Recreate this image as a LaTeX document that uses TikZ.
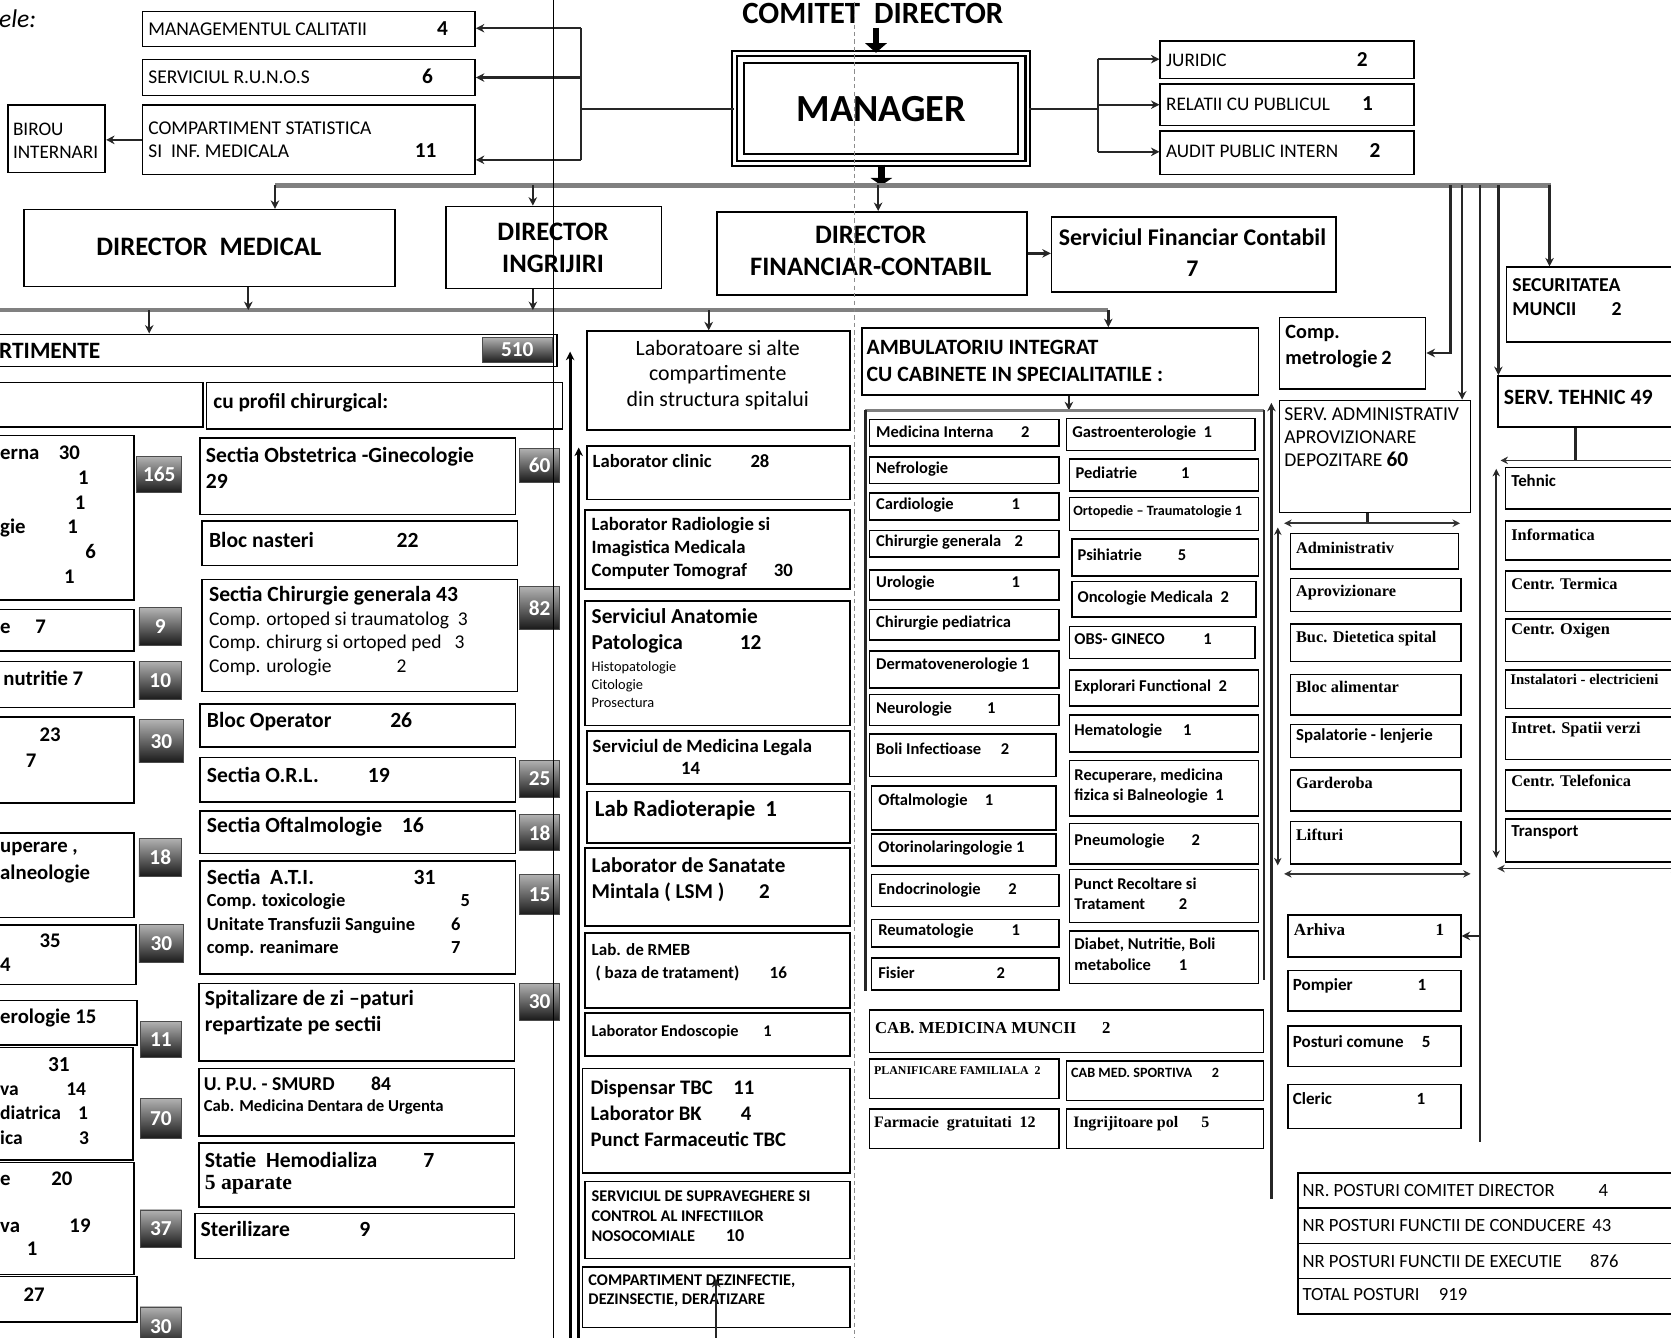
\documentclass[tikz,border=0pt]{standalone}
\usepackage{fontspec}
\setmainfont{Carlito}
\newfontfamily\tms{Liberation Serif}
\usetikzlibrary{arrows.meta}
\newcommand\sz[2]{\fontsize{#1}{#2}\selectfont}
\newcommand\LN[3]{\makebox[#1pt][l]{#2}#3}
\newcommand\nb[1]{\textbf{\sz{20}{22}#1}}
\newcommand\BX[9][]{%
 \node[box,minimum width={#5-(#3)},minimum height={#6-(#4)},anchor=north west] (#2) at (#3,#4) {};
 \node[tx,anchor=west,#1] (#2-t) at (#7,#8) {#9};}
\newcommand\BD[6]{%
 \node[badge,minimum width={#4-(#2)},minimum height={#5-(#3)},anchor=north west] (#1) at (#2,#3) {#6};}
\tikzset{
 box/.style={draw, line width=1.5pt, inner sep=0pt, fill=white},
 tx/.style={inner sep=0pt, align=left, font=\sz{16}{21}},
 badge/.style={draw=black!70, line width=0.8pt, inner sep=0pt, top color=black!30, bottom color=black!90, text=white, font=\bfseries\sz{20}{20}},
 con/.style={line width=2.2pt, draw=black!85},
 lcon/.style={line width=1.5pt, draw=black!80},
 bus/.style={line width=4pt, draw=black!50},
 arr/.style={-{Stealth[length=8pt,width=8pt]}},
 darr/.style={{Stealth[length=7pt,width=7pt]}-{Stealth[length=7pt,width=7pt]}},
 ab/.style={font=\bfseries\sz{15.5}{19}},
 sg/.style={font=\bfseries\sz{20.3}{24.5}},
 sv/.style={font=\tms\bfseries\sz{15.3}{18}},
 sb/.style={font=\bfseries\sz{15.8}{18}},
 lf/.style={font=\bfseries\sz{19.5}{23.2}},
}
\begin{document}
\begin{tikzpicture}[x=1pt,y=-1pt]
\useasboundingbox (0,0) rectangle (1568,1255);
\clip (0,0) rectangle (1568,1255);

% ---------- top ----------
\node[font=\bfseries\sz{29}{31}, anchor=base, inner sep=0pt] (comitet) at (819,22) {COMITET\ \ DIRECTOR};
\node[font=\itshape\sz{24}{26}, anchor=base west, inner sep=0pt] (ele) at (-1,26) {ele:};

\node[draw, line width=2pt, double, double distance=2.5pt, minimum width=275pt, minimum height=103pt, inner sep=0pt, fill=white, font=\bfseries\sz{36}{36}] (manager) at (827,102) {MANAGER};
\draw[line width=1.8pt] ([xshift=10pt,yshift=-10pt]manager.north west) rectangle ([xshift=-10pt,yshift=10pt]manager.south east);

\BX[font=\sz{18.3}{22}]{mc}{133}{10}{445}{43}{139}{27}{\LN{271}{MANAGEMENTUL CALITATII}{\nb{4}}}
\BX[font=\sz{18.3}{22}]{runos}{133}{55}{445}{89}{139}{72}{\LN{257}{SERVICIUL R.U.N.O.S}{\nb{6}}}
\BX[font=\sz{18.3}{22}]{cs}{133}{98}{445}{163}{139}{131}{COMPARTIMENT STATISTICA\\\LN{250}{SI\ \ INF. MEDICALA}{\nb{11}}}
\BX[font=\sz{18}{22}]{birou}{7}{98}{98}{161}{12}{132}{BIROU\\INTERNARI}

\BX[font=\sz{18}{22}]{jur}{1088}{38}{1326}{73}{1094}{56}{\LN{179}{JURIDIC}{\nb{2}}}
\BX[font=\sz{18}{22}]{rel}{1088}{78}{1326}{117}{1094}{97}{\LN{184}{RELATII CU PUBLICUL}{\nb{1}}}
\BX[font=\sz{18}{22}]{aud}{1088}{122}{1326}{163}{1094}{141}{\LN{191}{AUDIT PUBLIC INTERN}{\nb{2}}}

% ---------- directors ----------
\BX[font=\bfseries\sz{25}{30},anchor=center,align=center]{dm}{22}{196}{370}{268}{196}{232}{DIRECTOR\ \ MEDICAL}
\BX[font=\bfseries\sz{25}{30},anchor=center,align=center]{di}{418}{193}{620}{270}{519}{233}{DIRECTOR\\INGRIJIRI}
\BX[font=\bfseries\sz{25}{30},anchor=center,align=center]{dfc}{672}{198}{963}{276}{817}{235}{DIRECTOR\\FINANCIAR-CONTABIL}
\BX[font=\bfseries\sz{22.4}{29},anchor=center,align=center]{sfc}{986}{203}{1253}{273}{1119}{237}{Serviciul Financiar Contabil\\7}

% ---------- sectii ----------
\BX[font=\bfseries\sz{22}{24}]{dept}{-5}{313}{522}{343}{-1}{329}{RTIMENTE}
\BD{b510}{452}{316}{518}{340}{510}
\BX{medh}{-5}{358}{190}{400}{0}{379}{}
\BX[font=\bfseries\sz{20}{24}]{chirh}{193}{358}{527}{402}{200}{378}{cu profil chirurgical:}

\BX[lf]{L1}{-5}{408}{125}{562}{0}{483}{\LN{55}{erna}{30}\\\hspace*{73pt}1\\\hspace*{70pt}1\\\LN{63}{gie}{1}\\\hspace*{80pt}6\\\hspace*{60pt}1}
\BX[lf]{L2}{-5}{571}{125}{610}{0}{588}{\LN{33}{e}{7}}
\BX[lf]{L3}{-5}{620}{125}{663}{3}{636}{nutritie\ 7}
\BX[font=\bfseries\sz{19.5}{25}]{L4}{-5}{672}{125}{753}{0}{701.5}{\hspace*{37pt}23\\\hspace*{24pt}7}
\BX[font=\bfseries\sz{19.5}{25}]{L5}{-5}{781}{125}{860}{0}{809.5}{uperare ,\\alneologie}
\BX[font=\bfseries\sz{19.5}{22}]{L6}{-5}{867}{127}{923}{0}{894}{\hspace*{37pt}35\\4}
\BX[lf]{L7}{-5}{938}{128}{980}{0}{955}{erologie 15}
\BX[font=\bfseries\sz{18.3}{22.7}]{L8}{-5}{982}{124}{1088}{0}{1033}{\hspace*{45pt}{\sz{20}{22.7}31}\\\LN{62}{va}{14}\\\LN{73}{diatrica}{1}\\\LN{74}{ica}{3}}
\BX[font=\bfseries\sz{19.5}{22}]{L9}{-5}{1090}{125}{1195}{0}{1139}{\LN{48}{e}{20}\\\mbox{}\\\LN{65}{va}{19}\\\hspace*{25pt}1}
\BX[lf]{L10}{-5}{1197}{128}{1240}{0}{1215}{\hspace*{22pt}27}

\BD{g1}{128}{428}{170}{462}{165}
\BD{g2}{130}{570}{170}{605}{9}
\BD{g3}{130}{620}{170}{656}{10}
\BD{g4}{130}{675}{172}{715}{30}
\BD{g5}{130}{786}{170}{822}{18}
\BD{g6}{130}{867}{172}{903}{30}
\BD{g7}{131}{958}{170}{992}{11}
\BD{g8}{131}{1030}{170}{1068}{70}
\BD{g9}{131}{1135}{170}{1170}{37}
\BD{g10}{131}{1226}{170}{1262}{30}

\BX[sg]{obst}{187}{410}{483}{482}{193}{439}{Sectia Obstetrica -Ginecologie\\29}
\BX[sg]{nast}{189}{488}{485}{530}{196}{507}{\LN{176}{Bloc nasteri}{22}}
\BX[sg]{chir}{189}{543}{485}{648}{196}{559}{Sectia Chirurgie generala 43}
\node[tx,font=\sz{18.3}{22},anchor=west] (chir-s) at (196,604) {Comp. ortoped si traumatolog\ \ 3\\Comp. chirurg si ortoped ped\ \ \ 3\\\LN{176}{Comp. urologie}{2}};
\BX[sg]{blop}{187}{660}{483}{700}{194}{677}{\LN{172}{Bloc Operator}{26}}
\BX[sg]{orl}{187}{710}{483}{752}{194}{727}{\LN{151}{Sectia O.R.L.}{19}}
\BX[sg]{oft}{187}{760}{483}{800}{194}{776}{\LN{183}{Sectia Oftalmologie}{16}}
\BX[sg]{ati}{187}{807}{483}{913}{194}{823}{\LN{194}{Sectia\ \ A.T.I.}{31}}
\node[tx,font=\bfseries\sz{17.3}{22},anchor=west] (ati-s) at (194,868) {\LN{238}{Comp. toxicologie}{5}\\\LN{229}{Unitate Transfuzii Sanguine}{6}\\\LN{229}{comp. reanimare}{7}};
\BX[sg]{spit}{186}{922}{482}{995}{192}{950.5}{Spitalizare de zi \textendash paturi\\repartizate pe sectii}
\BX[font=\bfseries\sz{18.4}{21}]{upu}{186}{1002}{482}{1065}{191}{1017}{\LN{157}{U. P.U. - SMURD}{84}}
\node[tx,font=\bfseries\sz{15.7}{18},anchor=west] (upu-s) at (191,1039) {Cab. Medicina Dentara de Urgenta};
\BX[sg]{hemo}{186}{1072}{482}{1132}{192}{1088}{\LN{205}{Statie\ \ Hemodializa}{7}}
\node[tx,font=\tms\bfseries\sz{20.3}{22},anchor=west] (hemo-s) at (192,1112) {5 aparate};
\BX[sg]{ster}{182}{1138}{482}{1180}{188}{1153}{\LN{149}{Sterilizare}{9}}

\BD{h1}{487}{420}{525}{452}{60}
\BD{h2}{487}{550}{525}{590}{82}
\BD{h3}{487}{713}{525}{748}{25}
\BD{h4}{487}{764}{525}{798}{18}
\BD{h5}{487}{820}{525}{858}{15}
\BD{h6}{487}{922}{525}{957}{30}

% ---------- laboratoare ----------
\BX[font=\sz{20.5}{24},anchor=center,align=center]{labh}{550}{310}{797}{403}{673.5}{352}{Laboratoare si alte\\compartimente\\din structura spitalui}
\BX[font=\bfseries\sz{17.5}{22}]{lclin}{550}{418}{797}{468}{556}{433}{\LN{148}{Laborator clinic}{28}}
\BX[font=\bfseries\sz{17.6}{21.5}]{lrad}{548}{478}{797}{552}{555}{514.5}{Laborator Radiologie si\\Imagistica Medicala\\\LN{171}{Computer Tomograf}{30}}
\BX[font=\bfseries\sz{20}{24}]{anat}{548}{563}{797}{680}{555}{592}{Serviciul Anatomie\\\LN{139}{Patologica}{12}}
\node[tx,font=\sz{13.5}{17},anchor=west] (anat-s) at (555,642) {Histopatologie\\Citologie\\Prosectura};
\BX[font=\bfseries\sz{17.6}{21}]{legal}{550}{685}{797}{735}{556}{710.5}{Serviciul de Medicina Legala\\\hspace*{83pt}14}
\BX[font=\bfseries\sz{21.5}{24}]{radio}{550}{742}{797}{790}{558}{760}{\LN{160}{Lab Radioterapie}{1}}
\BX[font=\bfseries\sz{19.8}{25}]{lsm}{548}{795}{797}{868}{555}{825.5}{Laborator de Sanatate\\\LN{157}{Mintala ( LSM )}{2}}
\BX[font=\bfseries\sz{16}{22}]{rmeb}{548}{875}{797}{945}{555}{903}{Lab. de RMEB\\\LN{167}{\ ( baza de tratament)}{16}}
\BX[font=\bfseries\sz{15.3}{20}]{endo}{548}{950}{797}{990}{555}{968}{\LN{161}{Laborator Endoscopie}{1}}
\BX[font=\bfseries\sz{19.4}{24.5}]{tbc}{546}{1002}{797}{1100}{554}{1044.5}{\LN{134}{Dispensar TBC}{11}\\\LN{141}{Laborator BK}{4}\\Punct Farmaceutic TBC}
\BX[font=\bfseries\sz{15.3}{19}]{sup}{548}{1108}{797}{1180}{555}{1141}{SERVICIUL DE SUPRAVEGHERE SI\\CONTROL AL INFECTIILOR\\\LN{126}{NOSOCOMIALE}{\sz{17}{19}10}}
\BX[font=\bfseries\sz{15.3}{18}]{dez}{546}{1188}{797}{1245}{552}{1211}{COMPARTIMENT DEZINFECTIE,\\DEZINSECTIE, DERATIZARE}

% ---------- ambulatoriu ----------
\BX[font=\bfseries\sz{20.5}{25}]{amb}{808}{307}{1180}{370}{813}{338.5}{AMBULATORIU INTEGRAT\\CU CABINETE IN SPECIALITATILE :}
\BX[ab]{ami}{815}{393}{993}{418}{822}{405}{\LN{136}{Medicina Interna}{2}}
\BX[ab]{nef}{815}{428}{993}{453}{822}{440}{Nefrologie}
\BX[ab]{card}{815}{462}{993}{487}{822}{474}{\LN{127}{Cardiologie}{1}}
\BX[ab]{chg}{815}{497}{993}{522}{822}{509}{\LN{130}{Chirurgie generala}{2}}
\BX[ab]{uro}{815}{534}{993}{562}{822}{547}{\LN{127}{Urologie}{1}}
\BX[ab]{chp}{815}{571}{993}{600}{822}{585}{Chirurgie pediatrica}
\BX[ab]{derm}{815}{610}{993}{645}{822}{624}{Dermatovenerologie 1}
\BX[ab]{neur}{815}{651}{993}{680}{822}{665}{\LN{104}{Neurologie}{1}}
\BX[ab]{boli}{815}{688}{990}{728}{822}{703}{\LN{117}{Boli Infectioase}{2}}
\BX[ab]{oftb}{817}{737}{990}{778}{824}{752}{\LN{100}{Oftalmologie}{1}}
\BX[ab]{orlb}{817}{782}{990}{812}{824}{796}{Otorinolaringologie\ 1}
\BX[ab]{endc}{817}{820}{993}{850}{824}{835}{\LN{122}{Endocrinologie}{2}}
\BX[ab]{reum}{817}{862}{993}{888}{824}{874}{\LN{125}{Reumatologie}{1}}
\BX[ab]{fis}{817}{898}{993}{928}{824}{913}{\LN{111}{Fisier}{2}}

\BX[ab]{gas}{1000}{392}{1177}{422}{1006}{406}{Gastroenterologie\ \ 1}
\BX[ab]{ped}{1003}{430}{1180}{460}{1009}{444}{\LN{99}{Pediatrie}{1}}
\BX[font=\bfseries\sz{13.3}{15}]{orto}{1003}{466}{1180}{497}{1007}{480}{Ortopedie \textendash\ Traumatologie 1}
\BX[ab]{psi}{1005}{505}{1180}{540}{1011}{521}{\LN{94}{Psihiatrie}{5}}
\BX[ab]{onc}{1005}{545}{1178}{578}{1011}{561}{Oncologie Medicala\ \ 2}
\BX[ab]{obs}{1003}{587}{1177}{617}{1008}{600}{\LN{121}{OBS- GINECO}{1}}
\BX[ab]{expl}{1003}{628}{1180}{662}{1008}{645}{Explorari Functional\ \ 2}
\BX[ab]{hem}{1003}{670}{1180}{705}{1008}{686}{\LN{102}{Hematologie}{1}}
\BX[ab]{rec}{1003}{713}{1180}{765}{1008}{737.5}{Recuperare, medicina\\fizica si Balneologie\ \ 1}
\BX[ab]{pne}{1003}{772}{1180}{810}{1008}{789}{\LN{110}{Pneumologie}{2}}
\BX[ab]{pun}{1003}{815}{1180}{865}{1008}{838.5}{Punct Recoltare si\\\LN{98}{Tratament}{2}}
\BX[ab]{dia}{1003}{873}{1180}{922}{1008}{895.5}{Diabet, Nutritie, Boli\\\LN{98}{metabolice}{1}}

\BX[font=\tms\bfseries\sz{15.7}{18}]{cmm}{815}{947}{1185}{987}{821}{965}{\LN{213}{CAB. MEDICINA MUNCII}{2}}
\BX[font=\tms\bfseries\sz{11.2}{14}]{plan}{815}{993}{993}{1030}{820}{1005}{PLANIFICARE FAMILIALA\ \ 2}
\BX[font=\bfseries\sz{13.3}{15}]{sport}{1000}{995}{1185}{1032}{1005}{1007}{\LN{132}{CAB MED. SPORTIVA}{2}}
\BX[font=\tms\bfseries\sz{15}{17}]{farm}{815}{1040}{993}{1077}{820}{1054}{Farmacie\ \ gratuitati\ \ 12}
\BX[font=\tms\bfseries\sz{15}{17}]{ingr}{1000}{1040}{1185}{1077}{1007}{1054}{\LN{120}{Ingrijitoare pol}{5}}

% ---------- right side ----------
\BX[font=\bfseries\sz{18.5}{22}]{sec}{1413}{250}{1590}{320}{1419}{279}{SECURITATEA\\\LN{93}{MUNCII}{2}}
\BX[font=\bfseries\sz{19}{24}]{metro}{1200}{297}{1337}{364}{1206}{325}{Comp.\\\LN{90}{metrologie}{2}}
\BX[font=\bfseries\sz{20.5}{22}]{st}{1405}{352}{1590}{400}{1411}{373}{SERV. TEHNIC 49}
\BX[font=\sz{18.4}{21.5}]{sa}{1200}{375}{1379}{480}{1205}{410.5}{SERV. ADMINISTRATIV\\APROVIZIONARE\\\LN{96}{DEPOZITARE}{\nb{60}}}

\BX[sv]{adm}{1210}{500}{1368}{533}{1216}{514}{Administrativ}
\BX[sv]{apr}{1210}{542}{1370}{573}{1216}{556}{Aprovizionare}
\BX[sv]{buc}{1210}{585}{1370}{620}{1216}{599}{Buc. Dietetica spital}
\BX[sv]{bal}{1210}{632}{1370}{670}{1216}{645}{Bloc alimentar}
\BX[sb]{spa}{1210}{679}{1370}{710}{1216}{691}{Spalatorie - lenjerie}
\BX[sv]{gar}{1210}{722}{1370}{760}{1216}{735}{Garderoba}
\BX[sv]{lif}{1210}{770}{1370}{810}{1216}{783}{Lifturi}

\BX[sb]{teh}{1412}{438}{1590}{477}{1418}{451}{Tehnic}
\BX[sv]{inf}{1412}{488}{1590}{525}{1418}{502}{Informatica}
\BX[sv]{cte}{1412}{535}{1590}{573}{1418}{548}{Centr. Termica}
\BX[sv]{cox}{1412}{580}{1590}{620}{1418}{592}{Centr. Oxigen}
\BX[font=\tms\bfseries\sz{13.9}{18}]{ins}{1412}{628}{1590}{664}{1417}{638}{Instalatori - electricieni}
\BX[sv]{isv}{1412}{672}{1590}{712}{1418}{685}{Intret. Spatii verzi}
\BX[sv]{ctl}{1412}{722}{1590}{760}{1418}{733}{Centr. Telefonica}
\BX[sb]{tra}{1412}{768}{1590}{808}{1418}{781}{Transport}

\BX[font=\tms\bfseries\sz{16}{18}]{arh}{1208}{858}{1370}{897}{1214}{872}{\LN{133}{Arhiva}{1}}
\BX[font=\bfseries\sz{16}{18}]{pom}{1208}{910}{1370}{948}{1213}{925}{\LN{117}{Pompier}{1}}
\BX[font=\bfseries\sz{16}{18}]{pos}{1208}{962}{1370}{1000}{1213}{977}{\LN{121}{Posturi comune}{5}}
\BX[font=\bfseries\sz{16}{18}]{cle}{1208}{1017}{1370}{1058}{1213}{1031}{\LN{116}{Cleric}{1}}

\BX[font=\sz{17.5}{20}]{r1}{1217}{1100}{1590}{1133}{1222}{1117}{\LN{278}{NR. POSTURI COMITET DIRECTOR}{4}}
\BX[font=\sz{17.5}{20}]{r2}{1217}{1133}{1590}{1166}{1222}{1150}{\LN{272}{NR POSTURI FUNCTII DE CONDUCERE}{43}}
\BX[font=\sz{17.5}{20}]{r3}{1217}{1166}{1590}{1199}{1222}{1183}{\LN{270}{NR POSTURI FUNCTII DE EXECUTIE}{876}}
\BX[font=\sz{17.5}{20}]{r4}{1217}{1199}{1590}{1232}{1222}{1215}{\LN{128}{TOTAL POSTURI}{919}}

% ---------- connectors ----------
\coordinate (ctop) at (822,26);
\draw[line width=6pt,-{Triangle[length=9pt,width=20pt]}] (ctop) -- (ctop |- manager.north);

\coordinate (lb1) at (545,26.5); \coordinate (lb2) at (545,150);
\draw[con] (lb1) -- (lb2);
\draw[con] (manager.west) -- (manager.west -| lb1);
\draw[con,arr] (lb1) -- (lb1 -| mc.east);
\draw[con,arr] (runos.east -| lb1) -- (runos.east);
\draw[con,arr] (lb2) -- (lb2 -| cs.east);
\draw[con,arr] (cs.west) -- (cs.west -| birou.east);

\coordinate (rb1) at (1030,55.5); \coordinate (rb2) at (1030,142.5);
\draw[con] (rb1) -- (rb2);
\draw[con] (manager.east) -- (manager.east -| rb1);
\draw[con,arr] (rb1) -- (rb1 -| jur.west);
\draw[con,arr] (rel.west -| rb1) -- (rel.west);
\draw[con,arr] (rb2) -- (rb2 -| aud.west);

\coordinate (bL) at (258,174); \coordinate (bR) at (1455,174);
\draw[line width=6pt,-{Triangle[length=7pt,width=20pt]}] (manager.south) -- (manager.south |- bL);
\draw[bus] (bL) -- (bR);
\draw[con,arr] (bL) -- (bL |- dm.north);
\coordinate (b2) at (500,174); \draw[con,arr] (b2) -- (b2 |- di.north);
\coordinate (b3) at (824,174); \draw[con,arr] (b3) -- (b3 |- dfc.north);
\coordinate (b4) at (1361,174); \draw[con,arr] (b4) |- (metro.east);
\coordinate (b5) at (1372,174); \draw[con,arr] (b5) -- (b5 |- sa.north);
\coordinate (b6) at (1389,174); \coordinate (b6e) at (1389,1072); \draw[con] (b6) -- (b6e);
\draw[con,arr] (b6 |- arh.east) -- (arh.east);
\coordinate (b7) at (1406,174); \draw[con,arr] (b7) -- (b7 |- st.north);
\coordinate (b8) at (1454,174); \draw[con,arr] (b8) -- (b8 |- sec.north);
\draw[con,arr] (dfc.east) -- (dfc.east -| sfc.west);

\coordinate (m0) at (0,291); \coordinate (mR) at (1040,291);
\draw[bus] (m0) -- (mR);
\coordinate (m1) at (233,291); \draw[con,arr] (m1 |- dm.south) -- (m1);
\coordinate (m2) at (500,291); \draw[con,arr] (m2 |- di.south) -- (m2);
\coordinate (m3) at (140,291); \draw[con,arr] (m3) -- (m3 |- dept.north);
\coordinate (m4) at (665,291); \draw[con,arr] (m4) -- (m4 |- labh.north);
\draw[con,arr] (mR) -- (mR |- amb.north);

\coordinate (v1t) at (535,330); \coordinate (v1b) at (535,1262);
\draw[line width=3pt,arr] (v1b) -- (v1t);
\coordinate (v2t) at (543,420); \coordinate (v2b) at (543,1262);
\draw[line width=3pt,arr] (v2b) -- (v2t);

\coordinate (a1) at (1003,385); \draw[con,arr] (amb.south -| a1) -- (a1);
\coordinate (aL) at (812,385); \coordinate (aR) at (1186,385);
\draw[bus,line width=3pt] (aL) -- (aR);
\coordinate (aLb) at (812,930); \draw[con,line width=3pt] (aL) -- (aLb);
\coordinate (aRb) at (1186,920); \draw[con] (aR) -- (aRb);
\coordinate (vr1) at (1193,378); \coordinate (vr2) at (1193,1125);
\draw[con,arr] (vr2) -- (vr1);

\coordinate (s1) at (1283,491); \draw[con,line width=3pt] (sa.south -| s1) -- (s1);
\coordinate (sL) at (1205,491); \coordinate (sR) at (1370,491); \draw[lcon,darr] (sL) -- (sR);
\coordinate (sL2) at (1205,820); \coordinate (sR2) at (1380,820); \draw[lcon,darr] (sL2) -- (sR2);
\coordinate (sv1) at (1199,495); \coordinate (sv2) at (1199,812); \draw[con,darr] (sv1) -- (sv2);

\coordinate (t1) at (1478,432); \draw[con,line width=3pt] (st.south -| t1) -- (t1);
\coordinate (tL) at (1408,432); \coordinate (tR) at (1575,432); \draw[lcon,darr] (tL) -- (tR);
\coordinate (tL2) at (1405,815); \coordinate (tR2) at (1575,815); \draw[lcon,darr] (tL2) -- (tR2);
\coordinate (tv1) at (1404,440); \coordinate (tv2) at (1404,805); \draw[con,darr] (tv1) -- (tv2);

\coordinate (dz1) at (672,1262); \coordinate (dz2) at (672,1200);
\draw[con,arr] (dz1) -- (dz2);

% fold lines
\draw[line width=0.9pt] (519,-5) -- (519,1262);
\draw[line width=0.6pt, black!45, dash pattern=on 4pt off 3pt] (802,-5) -- (802,1262);
\end{tikzpicture}
\end{document}
